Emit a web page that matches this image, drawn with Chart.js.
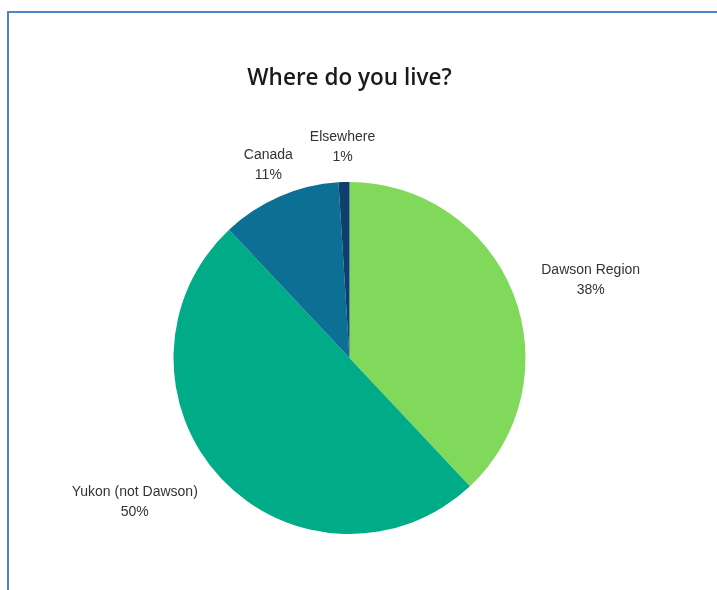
<!DOCTYPE html>
<html>
<head>
<meta charset="utf-8">
<script src="https://cdn.jsdelivr.net/npm/chart.js@4.4.1/dist/chart.umd.min.js"></script>
<style>
    html, body { margin: 0; padding: 0; background: #fff; }
    #wrap { position: relative; width: 717px; height: 590px; overflow: hidden; }
    #frame {
        position: absolute; left: 7px; top: 11px; width: 800px; height: 700px;
        border-left: 2px solid #5084c8; border-top: 2px solid #5084c8;
    }
    #livePie { position: absolute; left: 0; top: 0; }
</style>
</head>
<body>
<div id="wrap">
    <div id="frame"></div>
    <canvas id="livePie" width="717" height="590"></canvas>
</div>
<script>
// Survey answers, percent of respondents
const regions = ['Dawson Region', 'Yukon (not Dawson)', 'Canada', 'Elsewhere'];
const shares = [38, 50, 11, 1];
const sliceColors = ['#80d95a', '#00ac88', '#0b7093', '#0e3f6e'];

// Outside labels: name on the first line, percent below
const outsideLabels = {
    id: 'outsideLabels',
    afterDatasetsDraw(chart, args, opts) {
        const ctx = chart.ctx;
        const arcs = chart.getDatasetMeta(0).data;
        ctx.save();
        ctx.font = '14px "Liberation Sans", Arial, sans-serif';
        ctx.fillStyle = '#333';
        ctx.textAlign = 'center';
        ctx.textBaseline = 'middle';
        arcs.forEach((arc, i) => {
            const p = arc.getProps(['x', 'y', 'startAngle', 'endAngle', 'outerRadius'], true);
            const tweak = opts.tweaks[i] || { shift: 0, dist: 1.3 };
            const a = (p.startAngle + p.endAngle) / 2 + tweak.shift * Math.PI / 180;
            const r = p.outerRadius * tweak.dist;
            const cx = p.x + Math.cos(a) * r;
            const cy = p.y + Math.sin(a) * r;
            ctx.fillText(chart.data.labels[i], cx, cy - 10);
            ctx.fillText(shares[i] + '%', cx, cy + 10);
        });
        ctx.restore();
    }
};

new Chart(document.getElementById('livePie'), {
    type: 'pie',
    data: {
        labels: regions,
        datasets: [{
            data: shares,
            backgroundColor: sliceColors,
            borderWidth: 0
        }]
    },
    options: {
        responsive: false,
        animation: false,
        layout: { padding: { left: 150, right: 168, top: 0, bottom: 56 } },
        plugins: {
            legend: { display: false },
            tooltip: { enabled: false },
            title: {
                display: true,
                text: 'Where do you live?',
                color: '#1a1a1a',
                font: { family: '"Open Sans", sans-serif', size: 22.5, weight: '600' },
                padding: { top: 65, bottom: 90 }
            },
            outsideLabels: {
                tweaks: [
                    { shift: 3.7, dist: 1.44 },
                    { shift: 9.3, dist: 1.47 },
                    { shift: 0.6, dist: 1.19 },
                    { shift: -0.1, dist: 1.2 }
                ]
            }
        }
    },
    plugins: [outsideLabels]
});
</script>
</body>
</html>
